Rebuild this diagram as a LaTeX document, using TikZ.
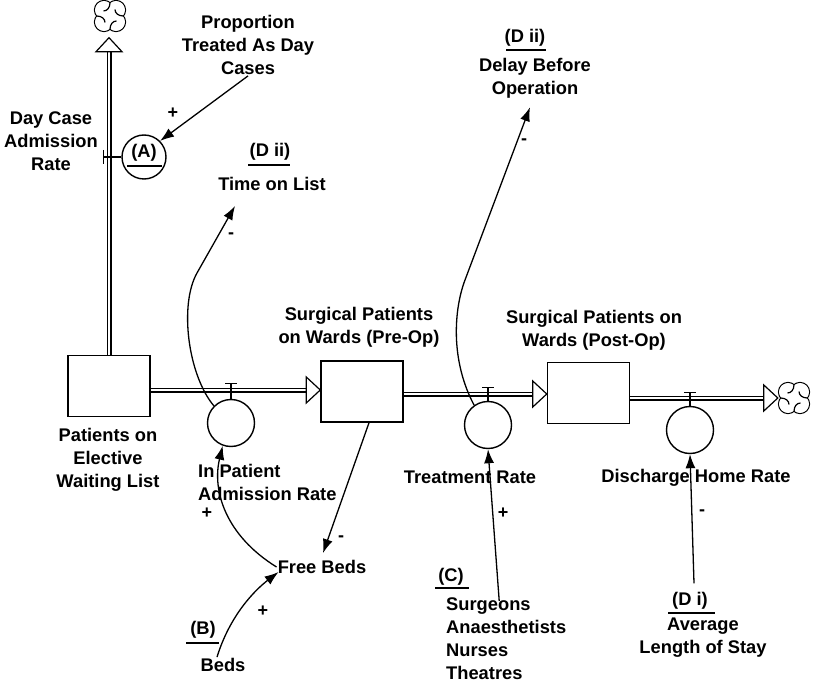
\documentclass[tikz,border=0pt]{standalone}
\usepackage{fontspec}
\setmainfont{Liberation Sans}
\usetikzlibrary{arrows.meta,calc}

% open head at the end of a flow pipe: tip at #1, pointing along angle #2
\newcommand\pipehead[2]{\draw[headline, shift={#1}, rotate=#2] (0,0) -- (-14,-13) -- (-14,13) -- cycle;}

\tikzset{
  lbl/.style={font=\bfseries\fontsize{18.3}{23}\selectfont, align=center, inner sep=1pt},
  sgn/.style={font=\bfseries\fontsize{18}{18}\selectfont, inner sep=0pt},
  stock/.style={draw, line width=1.5pt, minimum width=82pt, minimum height=61pt, inner sep=0pt},
  valve/.style={draw, circle, line width=1.4pt, minimum size=47pt, inner sep=0pt},
  pipe/.style={double, double distance=2.8pt, line width=1.1pt},
  headline/.style={line width=1.2pt, fill=white, line join=miter},
  link/.style={line width=1.3pt, -{Latex[length=14pt, width=10pt]}},
  uline/.style={line width=2.4pt},
  tbar/.style={line width=1.2pt},
  cloudpic/.pic={
    \foreach \a in {0,90,180,270}{\draw[line width=1.2pt, rotate=\a] (6,6) circle[radius=9.5];}
    \foreach \a in {0,90,180,270}{\fill[white, rotate=\a] (6,6) circle[radius=8.9];}
    \foreach \a in {0,90,180,270}{\draw[line width=1.2pt, rotate=\a] (0,13.4) .. controls (0,8) and (3,5) .. (6.5,5);}
  }
}

\begin{document}
\begin{tikzpicture}[x=1pt,y=-1pt]
\fill[white] (0,0) rectangle (813,684);
\useasboundingbox (0,0) rectangle (813,684);

% stocks
\node[stock] (s1) at (109,386) {};
\node[stock] (s2) at (362,391.5) {};
\node[stock] (s3) at (588.5,393) {};

% sources and sinks
\node[minimum size=43pt, inner sep=0pt] (c1) at (110,16) {};
\pic at (c1) {cloudpic};
\node[minimum size=32pt, inner sep=0pt] (c2) at (794,398) {};
\pic at (c2) {cloudpic};

% flow pipes
\coordinate (y1) at (0,390);
\coordinate (y2) at (0,394);
\draw[pipe, shorten >=14pt] (s1.north) -- (s1.north |- c1.south);
\pipehead{(s1.north |- c1.south)}{90}
\draw[pipe, shorten >=14pt] (s1.east |- y1) -- (s2.west |- y1);
\pipehead{(s2.west |- y1)}{0}
\draw[pipe, shorten >=14pt] (s2.east |- y2) -- (s3.west |- y2);
\pipehead{(s3.west |- y2)}{0}
\draw[pipe, shorten >=14pt] (s3.east |- c2) -- (c2.west);
\pipehead{(c2.west)}{0}

% valves
\node[valve] (v1) at (231,423) {};
\node[valve] (v2) at (488,425) {};
\node[valve] (v3) at (690,430) {};
\node[valve, minimum size=44pt] (vA) at (144,157) {};
\draw[tbar] (v1.north) -- ++(0,-15) ++(-6,0) -- ++(12,0);
\draw[tbar] (v2.north) -- ++(0,-13) ++(-6,0) -- ++(12,0);
\draw[tbar] (v3.north) -- ++(0,-13) ++(-6,0) -- ++(12,0);
\draw[tbar] (vA.west) -- ++(-18,0) ++(0,-7) -- ++(0,14);

% labels
\node[lbl] (la) at (144,153) {(A)};
\draw[uline] ($(la.center)+(-17,13)$) -- ++(35,0);
\node[lbl] (prop) at (248,45) {Proportion\\Treated As Day\\Cases};
\node[lbl] (dca) at (51,141) {Day Case\\Admission\\Rate};
\node[lbl] (d2a) at (270,152) {(D ii)};
\draw[uline] ($(d2a.center)+(-22,13)$) -- ++(42,0);
\node[lbl] (tl) at (272,184) {Time on List};
\node[lbl] (d2b) at (525,38) {(D ii)};
\draw[uline] ($(d2b.center)+(-19,12)$) -- ++(40,0);
\node[lbl] (dbo) at (535,78) {Delay Before\\Operation};
\node[lbl] (n1) at (108,460) {Patients on\\Elective\\Waiting List};
\node[lbl] (n2) at (359,327) {Surgical Patients\\on Wards (Pre-Op)};
\node[lbl] (n3) at (594,330) {Surgical Patients on\\Wards (Post-Op)};
\node[lbl, align=left, anchor=west] (r1) at (197,482) {In Patient\\Admission Rate};
\node[lbl] (r2) at (470,477) {Treatment Rate};
\node[lbl] (r3) at (696,478) {Discharge Home Rate};
\node[lbl] (fb) at (322,567) {Free Beds};
\node[lbl] (lb) at (203,630) {(B)};
\draw[uline] ($(lb.center)+(-17,13)$) -- ++(33,0);
\node[lbl] (beds) at (223,665) {Beds};
\node[lbl] (lc) at (451,577) {(C)};
\draw[uline] ($(lc.center)+(-16,11)$) -- ++(34,0);
\node[lbl, align=left, anchor=west] (surg) at (445,639) {Surgeons\\Anaesthetists\\Nurses\\Theatres};
\node[lbl] (di) at (690,601) {(D i)};
\draw[uline] ($(di.center)+(-22,12)$) -- ++(47,0);
\node[lbl] (avg) at (703,638) {Average\\Length of Stay};

% causal links
\draw[link] (prop.south) -- (vA.north east);
\draw[link] (v1.135) .. controls (188,375) and (179,305) .. (197,273) -- ($(tl.south)+(-37,14)$);
\draw[link] (v2.125) .. controls (450,360) and (454,309) .. (465,280) -- ($(dbo.south)+(-5,8)$);
\draw[link] ($(s2.south)+(7,0)$) -- ($(fb.north)+(1,-6)$);
\draw[link] (fb.west) .. controls (225,535) and (212,490) .. (v1.250);
\draw[link] ($(beds.north)+(-6,0)$) .. controls (230,615) and (255,590) .. ($(fb.west)+(2,5)$);
\draw[link] ($(surg.north)+(-7,4)$) -- (v2.south);
\draw[link] ($(di.north)+(4,-8)$) -- (v3.south);

% link polarities
\node[sgn] (g1) at (173,113) {+};
\node[sgn] (g2) at (231,236) {-};
\node[sgn] (g3) at (524,142) {-};
\node[sgn] (g4) at (207,513) {+};
\node[sgn] (g5) at (341,539) {-};
\node[sgn] (g6) at (263,611) {+};
\node[sgn] (g7) at (503,513) {+};
\node[sgn] (g8) at (702,513) {-};
\end{tikzpicture}
\end{document}
